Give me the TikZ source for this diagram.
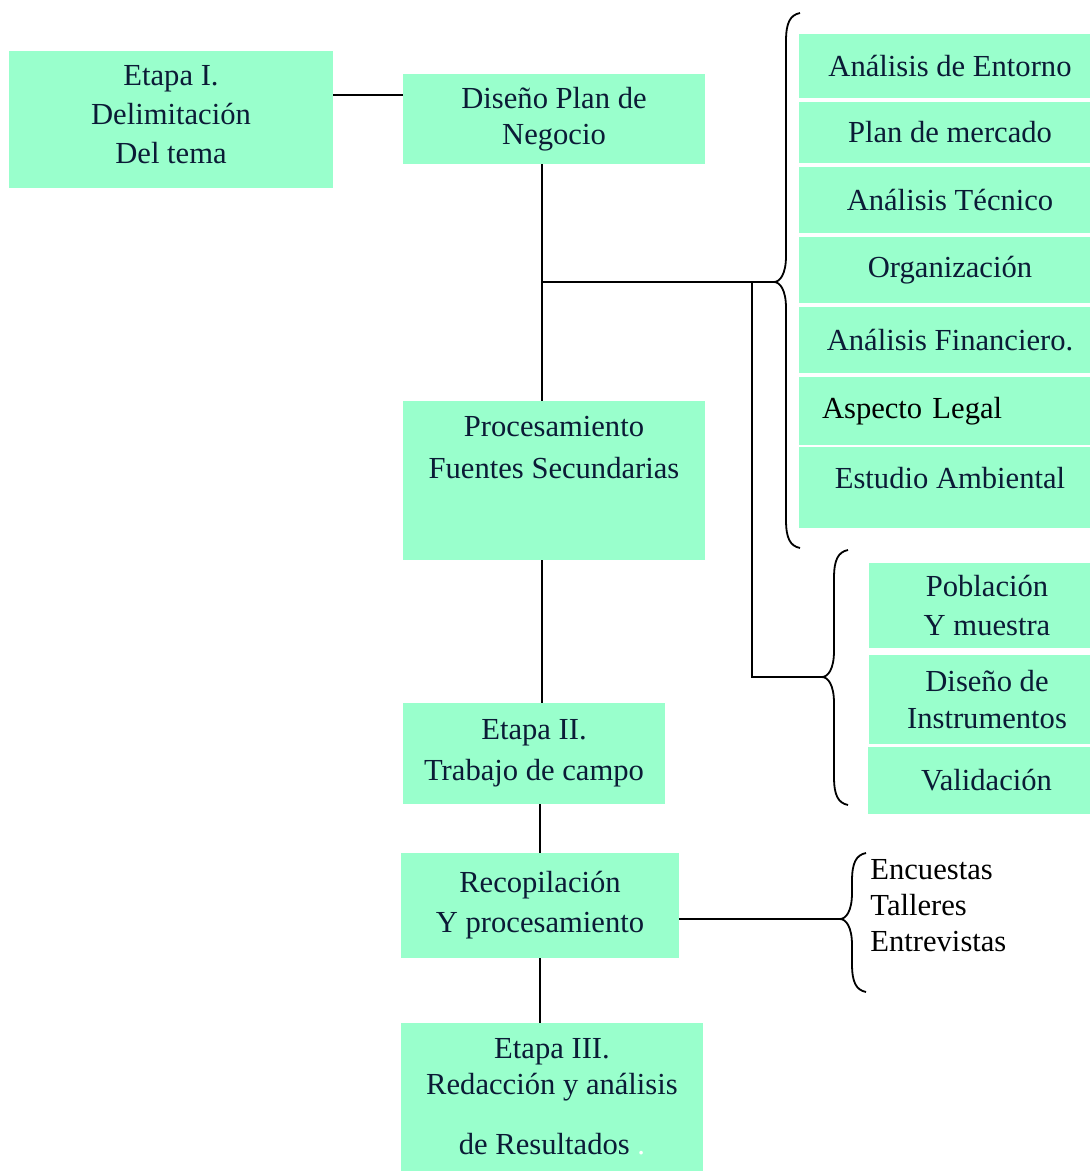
\documentclass[tikz,border=0pt]{standalone}
\usepackage{fontspec}
\setmainfont{Liberation Serif}
\usepackage{xcolor}
\usepackage{tikz}
\definecolor{mint}{HTML}{99FFCC}
\definecolor{ink}{HTML}{0B1B36}

\begin{document}
\begin{tikzpicture}[x=0.5pt,y=-0.5pt,
	box/.style={fill=mint,text=ink,inner sep=0pt,align=center,font=\fontsize{15.3}{19.5}\selectfont},
	wh/.style 2 args={minimum width=#1*0.5pt,minimum height=#2*0.5pt},
	lead/.style={font=\fontsize{15.3}{#1}\selectfont},
	link/.style={line width=0.9pt}]
	\useasboundingbox (0,0) rectangle (1089,1171);
	\node[box,wh={324}{137}] (etapaI) at (171,119.5) {Etapa I.\\Delimitación\\Del tema\\[-14pt]\mbox{}};
	\node[box,wh={302}{90},lead=18] (diseno) at (554,119) {Diseño Plan de\\Negocio};
	\node[box,wh={302}{159},lead=21] (proc) at (554,480.5) {Procesamiento\\Fuentes Secundarias\\[12.5pt]\mbox{}};
	\node[box,wh={262}{101},lead=20.5] (etapaII) at (534,753.5) {Etapa II.\\Trabajo de campo};
	\node[box,wh={278}{105},lead=20] (recop) at (540,905.5) {Recopilación\\Y procesamiento};
	\node[box,wh={302}{148},lead=18] (etapaIII) at (552,1097) {Etapa III.\\Redacción y análisis\\[12pt]de Resultados \textcolor{white}{.}};
	\foreach \n/\y/\h/\t in {entorno/66/64/Análisis de Entorno,mercado/132.5/61/Plan de mercado,tecnico/200/66/Análisis Técnico,organiz/270/66/Organización,financ/340/66/Análisis Financiero.}
		\node[box,wh={302}{\h}] (\n) at (950,\y) {\t};
	\node[box,wh={302}{68},text=black,align=left,text width=128pt] (legal) at (950,411) {Aspecto Legal};
	\node[box,wh={302}{81}] (ambiental) at (950,487.5) {Estudio Ambiental\\[-10pt]\mbox{}};
	\node[box,wh={236}{85}] (poblacion) at (987,605.5) {Población\\Y muestra};
	\node[box,wh={236}{89},lead=18.5] (instrum) at (987,699.5) {Diseño de\\Instrumentos};
	\node[box,wh={237}{67}] (valida) at (986.5,780.5) {Validación};
	\node[anchor=west,align=left,inner sep=0pt,font=\fontsize{15.3}{18}\selectfont] (tecnicas) at (870,906) {Encuestas\\Talleres\\Entrevistas};
	\foreach \n/\xb/\yt/\ym/\yb in {A/786/13/282/548,B/834/550/677/805,C/852/853/919/992}{
		\coordinate (tip\n) at (\xb-12,\ym);
		\draw[link] (\xb+14,\yt) .. controls (\xb+4,\yt+2) and (\xb,\yt+10) .. (\xb,\yt+28) -- (\xb,\ym-26) .. controls (\xb,\ym-8) and (\xb-6,\ym) .. (tip\n) .. controls (\xb-6,\ym) and (\xb,\ym+8) .. (\xb,\ym+26) -- (\xb,\yb-28) .. controls (\xb,\yb-10) and (\xb+4,\yb-2) .. (\xb+14,\yb);
	}
	\coordinate (j0) at ([yshift=12pt]diseno.west);
	\draw[link] (j0) -- (etapaI.east |- j0);
	\draw[link] ([xshift=-6pt]diseno.south) -- ([xshift=-6pt]proc.north);
	\draw[link] ([xshift=-6pt]proc.south) -- ([xshift=-6pt]proc.south |- etapaII.north);
	\draw[link] (recop.north) -- (recop.north |- etapaII.south);
	\draw[link] (recop.south) -- (recop.south |- etapaIII.north);
	\coordinate (fork) at ([xshift=-6pt]diseno.south |- tipA);
	\draw[link] (fork) -- (tipA);
	\coordinate (fork2) at (752,282);
	\draw[link] (fork2) |- (tipB);
	\draw[link] (recop.east |- tipC) -- (tipC);
\end{tikzpicture}
\end{document}
